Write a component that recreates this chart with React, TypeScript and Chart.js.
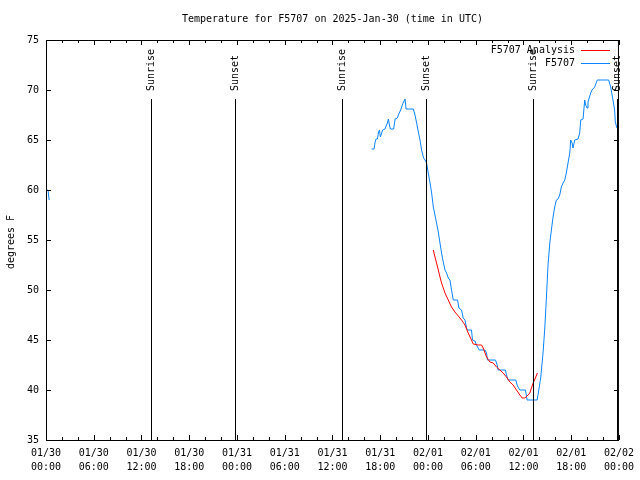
import React, { useEffect, useRef } from "react";
import { Chart, registerables } from "chart.js";

Chart.register(...registerables);

const FONT = '"DejaVu Sans Mono", "Liberation Mono", monospace';

const titleText = "Temperature for F5707 on 2025-Jan-30 (time in UTC)";
const yAxisLabel = "degrees F";

// x ticks (hours since 2025-01-30 00:00 UTC)
const tickHours = [0, 6, 12, 18, 24, 30, 36, 42, 48, 54, 60, 66, 72];
const tickDates = ["01/30", "01/30", "01/30", "01/30", "01/31", "01/31", "01/31", "01/31", "02/01", "02/01", "02/01", "02/01", "02/02"];
const tickTimes = ["00:00", "06:00", "12:00", "18:00", "00:00", "06:00", "12:00", "18:00", "00:00", "06:00", "12:00", "18:00", "00:00"];

// sunrise / sunset markers
const sunHours = [13.2, 23.77, 37.19, 47.77, 61.19, 71.73];
const sunLabels = ["Sunrise", "Sunset", "Sunrise", "Sunset", "Sunrise", "Sunset"];

// F5707 station observations (null = gap)
const stationHours = [
  0.0, 0.25, 0.4, 20,
  40.93, 41.23, 41.36, 41.48, 41.65, 41.77, 41.9, 42.02, 42.19, 42.31, 42.61, 42.74, 42.9, 43.03,
  43.15, 43.28, 43.69, 43.87, 44.15, 44.28, 44.57, 44.82, 45.0, 45.12, 45.25, 46.16, 46.37, 46.58,
  46.79, 47.0, 47.2, 47.45, 47.63, 47.83, 48.04, 48.26, 48.46, 48.67, 48.88, 49.08, 49.3, 49.51,
  49.71, 49.92, 50.14, 50.34, 50.55, 50.76, 50.96, 51.18, 51.72, 51.89, 52.22, 52.43, 52.65, 52.85,
  52.97, 53.47, 53.6, 53.9, 54.1, 54.44, 55.16, 55.36, 55.48, 56.49, 56.7, 56.82, 57.74, 57.86,
  58.08, 59.04, 59.24, 59.55, 60.25, 60.46, 61.72, 61.93, 62.18, 62.47, 62.68, 62.88, 63.09, 63.31,
  63.51, 63.72, 63.93, 64.14, 64.35, 64.56, 64.76, 64.98, 65.19, 65.39, 65.6, 65.82, 65.94, 66.11,
  66.23, 66.44, 66.86, 67.07, 67.2, 67.49, 67.7, 67.82, 67.99, 68.11, 68.45, 68.61, 68.95, 69.28,
  70.71, 70.96, 71.25, 71.46, 71.54, 71.75,
];
const stationTemps = [
  60.0, 60.0, 59.0, null,
  64.1, 64.1, 64.8, 65.1, 65.1, 65.7, 66.0, 65.3, 65.7, 66.0, 66.1, 66.4, 66.7, 67.1,
  66.5, 66.1, 66.1, 67.1, 67.2, 67.5, 68.0, 68.6, 68.9, 69.1, 68.1, 68.1, 67.5, 66.7,
  65.8, 65.0, 64.0, 63.2, 63.0, 62.7, 61.7, 60.7, 59.7, 58.3, 57.5, 56.7, 55.8, 54.7,
  53.7, 52.8, 52.0, 51.7, 51.2, 51.0, 50.0, 49.0, 49.0, 48.2, 48.0, 47.2, 47.0, 46.2,
  46.0, 46.0, 45.0, 44.9, 44.5, 44.0, 44.0, 43.7, 43.0, 43.0, 42.5, 42.0, 42.0, 41.5,
  41.0, 41.0, 40.4, 40.0, 40.0, 39.0, 39.0, 40.0, 41.3, 43.8, 46.2, 49.2, 52.5, 54.7,
  56.0, 57.3, 58.3, 59.0, 59.1, 59.5, 60.3, 60.7, 61.0, 61.7, 62.7, 63.7, 65.0, 64.7,
  64.2, 65.0, 65.1, 65.7, 67.0, 67.1, 69.0, 68.5, 68.2, 68.8, 69.7, 70.0, 70.3, 71.0,
  71.0, 70.3, 69.0, 68.0, 66.8, 66.2,
];

// F5707 Analysis
const analysisHours = [
  48.67, 48.88, 49.08, 49.3, 49.51, 49.71, 50.14, 50.55, 50.96, 51.39, 51.81, 52.22, 52.65, 53.06,
  53.47, 53.69, 54.31, 54.73, 54.94, 55.36, 55.78, 56.2, 56.61, 57.04, 57.45, 57.86, 58.29, 58.7,
  59.12, 59.55, 59.84, 60.17, 60.59, 60.8, 61.0, 61.22, 61.5, 61.75,
];
const analysisTemps = [
  54.0, 53.3, 52.7, 52.0, 51.3, 50.7, 49.7, 49.0, 48.3, 47.8, 47.4, 47.0, 46.5, 45.7,
  45.0, 44.6, 44.5, 44.5, 44.2, 43.3, 42.8, 42.7, 42.3, 42.0, 41.7, 41.3, 40.8, 40.5,
  40.0, 39.5, 39.2, 39.2, 39.5, 39.7, 40.2, 40.7, 41.2, 41.7,
];

const RED = "#ff0000";
const BLUE = "#0a84ff";

const decorPlugin = {
  id: "decor",
  afterDraw(chart: any) {
    const { ctx, chartArea, scales } = chart;
    const { left, right, top, bottom } = chartArea;
    const xs = scales.x;
    const ys = scales.y;
    ctx.save();
    ctx.strokeStyle = "#000";
    ctx.lineWidth = 1;
    // frame
    ctx.strokeRect(left + 0.5, top + 0.5, right - left - 1, bottom - top);
    ctx.beginPath();
    // x ticks
    for (let h = 0; h <= 72; h += 2) {
      const px = Math.round(xs.getPixelForValue(h)) + 0.5;
      const len = h % 6 === 0 ? 5 : 3;
      ctx.moveTo(px, bottom);
      ctx.lineTo(px, bottom - len);
      ctx.moveTo(px, top);
      ctx.lineTo(px, top + len);
    }
    // y ticks
    for (let v = 35; v <= 75; v += 5) {
      const py = Math.round(ys.getPixelForValue(v)) + 0.5;
      ctx.moveTo(left, py);
      ctx.lineTo(left + 5, py);
      ctx.moveTo(right, py);
      ctx.lineTo(right - 5, py);
    }
    ctx.stroke();

    ctx.fillStyle = "#000";
    ctx.font = `10px ${FONT}`;
    // sunrise / sunset
    sunHours.forEach((h, i) => {
      const px = Math.round(xs.getPixelForValue(h)) + 0.5;
      ctx.beginPath();
      ctx.moveTo(px, 99);
      ctx.lineTo(px, bottom);
      ctx.stroke();
      ctx.save();
      ctx.translate(px, 91);
      ctx.rotate(-Math.PI / 2);
      ctx.textAlign = "left";
      ctx.textBaseline = "middle";
      ctx.fillText(sunLabels[i], 0, 0);
      ctx.restore();
    });

    // title
    ctx.textAlign = "center";
    ctx.textBaseline = "middle";
    ctx.fillText(titleText, (left + right) / 2, 19);

    // y label
    ctx.save();
    ctx.translate(11, 242);
    ctx.rotate(-Math.PI / 2);
    ctx.textAlign = "center";
    ctx.textBaseline = "middle";
    ctx.fillText(yAxisLabel, 0, 0);
    ctx.restore();

    // legend
    const ds = chart.data.datasets;
    const rows = [50, 63];
    ds.forEach((d: any, i: number) => {
      ctx.textAlign = "right";
      ctx.textBaseline = "middle";
      ctx.fillStyle = "#000";
      ctx.fillText(d.label, 575, rows[i]);
      ctx.strokeStyle = d.borderColor;
      ctx.beginPath();
      ctx.moveTo(581, rows[i] + 0.5);
      ctx.lineTo(610, rows[i] + 0.5);
      ctx.stroke();
    });
    ctx.restore();
  },
};

export default function App() {
  const ref = useRef<HTMLCanvasElement>(null);
  useEffect(() => {
    document.body.style.margin = "0";
    const chart = new Chart(ref.current as HTMLCanvasElement, {
      type: "line",
      data: {
        datasets: [
          {
            label: "F5707 Analysis",
            data: analysisHours.map((h, i) => ({ x: h, y: analysisTemps[i] })),
            borderColor: RED,
            backgroundColor: RED,
            borderWidth: 1,
            pointRadius: 0,
            fill: false,
            tension: 0,
          },
          {
            label: "F5707",
            data: stationHours.map((h, i) => ({ x: h, y: stationTemps[i] as any })),
            borderColor: BLUE,
            backgroundColor: BLUE,
            borderWidth: 1,
            pointRadius: 0,
            fill: false,
            tension: 0,
            spanGaps: false,
          },
        ],
      },
      options: {
        responsive: false,
        animation: false,
        devicePixelRatio: 1,
        layout: { padding: { left: 0, right: 19, top: 40, bottom: 0 } },
        plugins: {
          legend: { display: false },
          title: { display: false },
          tooltip: { enabled: false },
        },
        scales: {
          x: {
            type: "linear",
            min: 0,
            max: 72,
            grid: { display: false, drawTicks: false },
            border: { display: false },
            afterBuildTicks: (s: any) => {
              s.ticks = tickHours.map((v) => ({ value: v }));
            },
            afterFit: (s: any) => {
              s.height = 40;
            },
            ticks: {
              autoSkip: false,
              maxRotation: 0,
              minRotation: 0,
              padding: 6,
              color: "#000",
              font: { family: FONT, size: 10, lineHeight: 1.45 },
              callback: (v: any) => {
                const i = tickHours.indexOf(Number(v));
                return i >= 0 ? [tickDates[i], tickTimes[i]] : "";
              },
            },
          },
          y: {
            type: "linear",
            min: 35,
            max: 75,
            grid: { display: false, drawTicks: false },
            border: { display: false },
            afterFit: (s: any) => {
              s.width = 46;
            },
            ticks: {
              stepSize: 5,
              padding: 7,
              color: "#000",
              font: { family: FONT, size: 10 },
            },
          },
        },
      },
      plugins: [decorPlugin],
    });
    return () => chart.destroy();
  }, []);
  return <canvas ref={ref} width={640} height={480} style={{ display: "block" }} />;
}
